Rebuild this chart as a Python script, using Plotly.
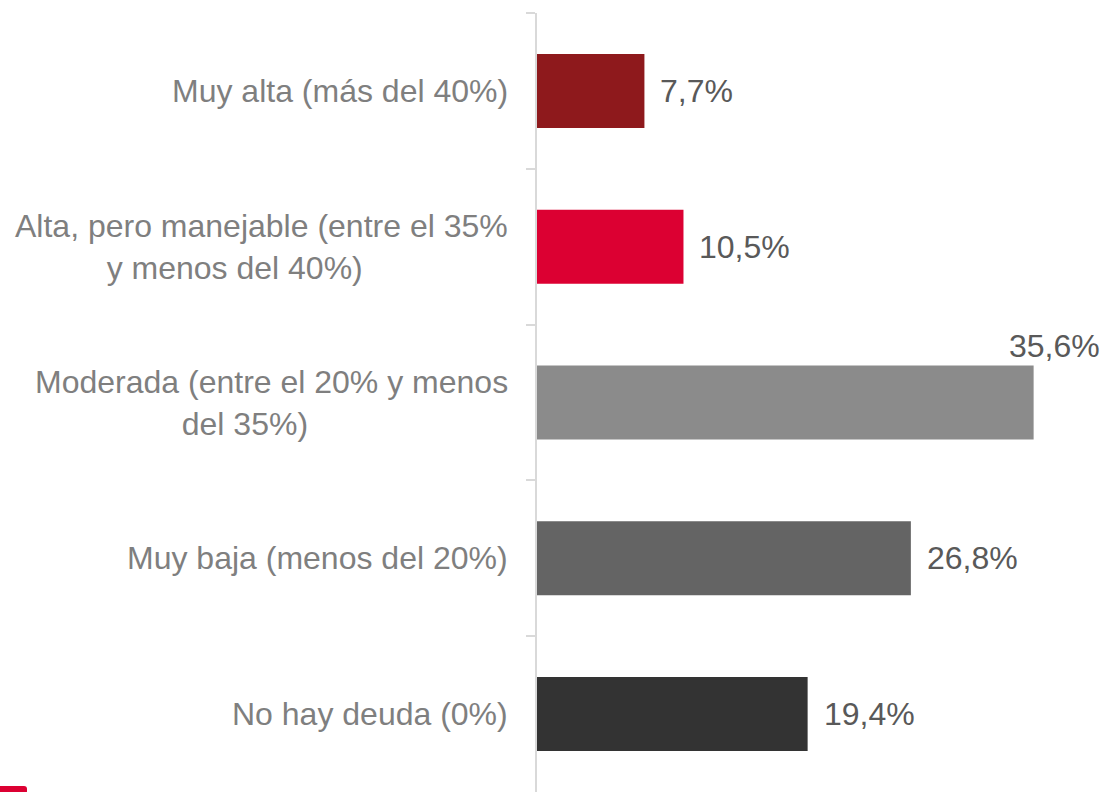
import plotly.graph_objects as go

NB = "\u00a0"
categories = [
    "Muy alta (más del 40%)",
    "Alta, pero manejable (entre el 35%<br>y menos del 40%)" + NB * 6,
    "Moderada (entre el 20% y menos<br>del 35%)" + NB * 6,
    "Muy baja (menos del 20%)",
    "No hay deuda (0%)",
]
values = [7.7, 10.5, 35.6, 26.8, 19.4]
value_labels = ["7,7%", "10,5%", "35,6%", "26,8%", "19,4%"]
bar_colors = ["#8e191c", "#dc0032", "#8b8b8b", "#646464", "#333333"]

FONT = "Liberation Sans, Arial, sans-serif"

fig = go.Figure()
fig.add_trace(go.Bar(
    x=values,
    y=categories,
    orientation="h",
    marker=dict(color=bar_colors, line=dict(width=0)),
    width=0.475,
    hoverinfo="skip",
))

annotations = []
# category labels
for c in categories:
    annotations.append(dict(
        x=0, xref="paper", y=c, yref="y",
        text=c, showarrow=False, xanchor="right", yanchor="middle",
        align="center", xshift=-27,
        font=dict(family=FONT, size=32, color="#7f7f7f"),
    ))
# value labels
max_v = max(values)
for c, v, lab in zip(categories, values, value_labels):
    if v == max_v:
        annotations.append(dict(
            x=v, xref="x", y=c, yref="y", text=lab, showarrow=False,
            xanchor="right", yanchor="middle", xshift=68, yshift=57,
            font=dict(family=FONT, size=32, color="#595959"),
        ))
    else:
        annotations.append(dict(
            x=v, xref="x", y=c, yref="y", text=lab, showarrow=False,
            xanchor="left", yanchor="middle", xshift=14,
            font=dict(family=FONT, size=32, color="#595959"),
        ))

fig.update_layout(
    width=1109, height=792,
    margin=dict(l=537, r=14, t=13, b=0),
    paper_bgcolor="white", plot_bgcolor="white",
    showlegend=False,
    annotations=annotations,
    xaxis=dict(range=[0, 40], visible=False, showgrid=False, zeroline=False),
    yaxis=dict(
        type="category",
        categoryorder="array", categoryarray=categories,
        autorange="reversed",
        showticklabels=False,
        showline=True, linecolor="#d9d9d9", linewidth=2,
        ticks="outside", tickson="boundaries", ticklen=9, tickwidth=2,
        tickcolor="#d9d9d9",
        showgrid=False, zeroline=False,
    ),
    shapes=[dict(
        type="path", xref="paper", yref="paper",
        xsizemode="pixel", ysizemode="pixel", xanchor=0, yanchor=0,
        path="M-537,-2 L-513,-2 Q-510,-2 -510,1 L-510,3 Q-510,6 -513,6 L-537,6 Z",
        fillcolor="#dc0032", line=dict(width=0),
    )],
)

fig.write_html(
    "out.html",
    config={"displayModeBar": False},
    post_script="document.body.style.margin='0';document.body.style.padding='0';",
)
